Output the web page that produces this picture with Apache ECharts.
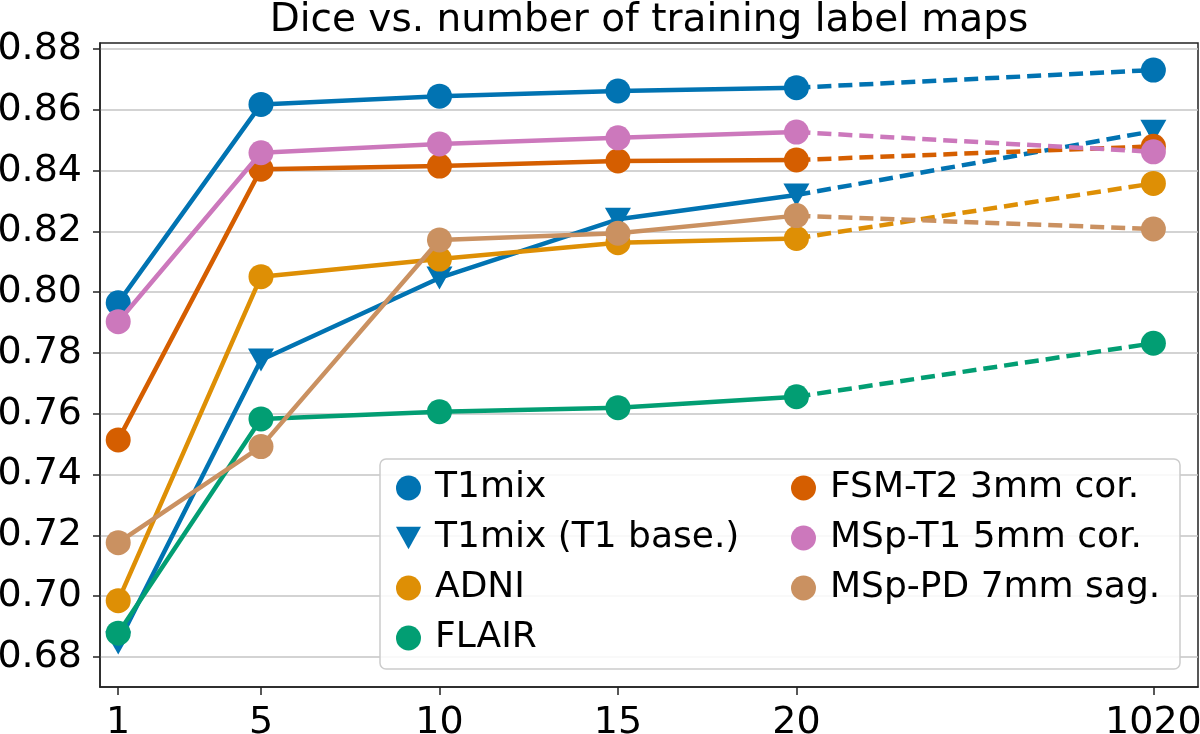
<!DOCTYPE html>
<html>
<head>
<meta charset="utf-8">
<script src="https://cdn.jsdelivr.net/npm/echarts@6/dist/echarts.min.js"></script>
<style>
  html, body { margin: 0; padding: 0; background: #fff; }
  #chart { width: 1200px; height: 734px; }
</style>
</head>
<body>
<div id="chart"></div>
<script>
// x positions of the measured points; the 1020 point sits at position 30 (broken axis)
const xPos = [1, 5, 10, 15, 20];
const xExtPos = 30;
const xTickPos = [1, 5, 10, 15, 20, 30];
const xTickLabels = ["1", "5", "10", "15", "20", "1020"];
const yTicks = [0.68, 0.70, 0.72, 0.74, 0.76, 0.78, 0.80, 0.82, 0.84, 0.86, 0.88];

const names = [
  "T1mix",
  "T1mix (T1 base.)",
  "ADNI",
  "FLAIR",
  "FSM-T2 3mm cor.",
  "MSp-T1 5mm cor.",
  "MSp-PD 7mm sag.",
];
const t1mix = [0.7965, 0.8618, 0.8645, 0.8662, 0.8673];
const t1base = [0.6846, 0.7777, 0.8047, 0.824, 0.832];
const adni = [0.6985, 0.8051, 0.8109, 0.8163, 0.8177];
const flair = [0.6878, 0.7583, 0.7607, 0.762, 0.7656];
const fsmT2 = [0.7514, 0.8405, 0.8415, 0.8432, 0.8435];
const mspT1 = [0.7903, 0.8459, 0.8488, 0.8508, 0.8527];
const mspPD = [0.7176, 0.7492, 0.8172, 0.8194, 0.8252];
// values at 1020 label maps
const ext1020 = [0.8731, 0.853, 0.8358, 0.7832, 0.848, 0.8462, 0.8208];

const allValues = [t1mix, t1base, adni, flair, fsmT2, mspT1, mspPD];
const colors = ["#0173b2", "#0173b2", "#de8f05", "#029e73", "#d55e00", "#cc78bc", "#ca9161"];
const triDown = "path://M0,0L10,0L5,9Z";
const symbols = ["circle", triDown, "circle", "circle", "circle", "circle", "circle"];

const chart = echarts.init(document.getElementById("chart"));

const series = [];
names.forEach((name, i) => {
  const vals = allValues[i];
  const size = i === 1 ? [26, 23] : 25;
  series.push({
    name: name,
    type: "line",
    data: xPos.map((x, k) => [x, vals[k]]),
    symbol: symbols[i],
    symbolSize: size,
    showAllSymbol: true,
    color: colors[i],
    lineStyle: { width: 4.5, color: colors[i] },
    itemStyle: { color: colors[i], opacity: 1 },
    z: 2 + i * 0.1,
  });
  series.push({
    name: name,
    type: "line",
    data: [
      { value: [xPos[xPos.length - 1], vals[vals.length - 1]], symbol: "none" },
      [xExtPos, ext1020[i]],
    ],
    symbol: symbols[i],
    symbolSize: size,
    showAllSymbol: true,
    color: colors[i],
    lineStyle: { width: 4.5, color: colors[i], type: [14, 7] },
    itemStyle: { color: colors[i], opacity: 1 },
    z: 2 + i * 0.1,
  });
});

const legendText = {
  fontFamily: "DejaVu Sans",
  fontSize: 36,
  color: "#000",
  lineHeight: 40,
  padding: [0, 0, 0, 9],
};

const option = {
  animation: false,
  backgroundColor: "#fff",
  title: {
    text: "Dice vs. number of training label maps",
    left: 649,
    top: 1,
    textAlign: "center",
    padding: 0,
    textStyle: {
      fontFamily: "DejaVu Sans",
      fontSize: 39,
      fontWeight: "normal",
      color: "#000",
    },
  },
  graphic: [
    {
      type: "rect",
      z: 3,
      shape: { x: 380, y: 459, width: 800, height: 210, r: 6 },
      style: { fill: "rgba(255,255,255,0.85)", stroke: "#cccccc", lineWidth: 1.5 },
    },
  ],
  legend: [
    {
      orient: "vertical",
      left: 396,
      top: 468,
      padding: 0,
      itemGap: 10,
      itemWidth: 25,
      itemHeight: 25,
      z: 5,
      selectedMode: false,
      textStyle: legendText,
      data: names.slice(0, 4).map((n, i) => ({ name: n, icon: symbols[i] })),
    },
    {
      orient: "vertical",
      left: 791,
      top: 468,
      padding: 0,
      itemGap: 10,
      itemWidth: 25,
      itemHeight: 25,
      z: 5,
      selectedMode: false,
      textStyle: legendText,
      data: names.slice(4).map((n, i) => ({ name: n, icon: symbols[i + 4] })),
    },
  ],
  grid: {
    left: 100,
    right: 2,
    top: 43,
    bottom: 47,
    show: true,
    borderColor: "#222",
    borderWidth: 1.5,
    containLabel: false,
    outerBoundsMode: "none",
  },
  xAxis: {
    type: "value",
    min: 0.49,
    max: 31.25,
    axisLine: { show: true, lineStyle: { color: "#222", width: 1.5 } },
    axisTick: {
      show: true,
      length: 8,
      customValues: xTickPos,
      lineStyle: { color: "#222", width: 1.5 },
    },
    splitLine: { show: false },
    axisLabel: {
      customValues: xTickPos,
      margin: 17,
      fontFamily: "DejaVu Sans",
      fontSize: 38,
      color: "#000",
      formatter: (v) => xTickLabels[xTickPos.indexOf(v)],
    },
  },
  yAxis: {
    type: "value",
    min: 0.6701,
    max: 0.882,
    axisLine: { show: true, lineStyle: { color: "#222", width: 1.5 } },
    axisTick: {
      show: true,
      length: 7,
      customValues: yTicks,
      lineStyle: { color: "#222", width: 1.5 },
    },
    splitLine: { show: true, lineStyle: { color: "#c4c4c4", width: 1.5 } },
    axisLabel: {
      customValues: yTicks,
      margin: 18,
      fontFamily: "DejaVu Sans",
      fontSize: 38,
      color: "#000",
      formatter: (v) => v.toFixed(2),
    },
  },
  series: series,
};

chart.setOption(option);
</script>
</body>
</html>
